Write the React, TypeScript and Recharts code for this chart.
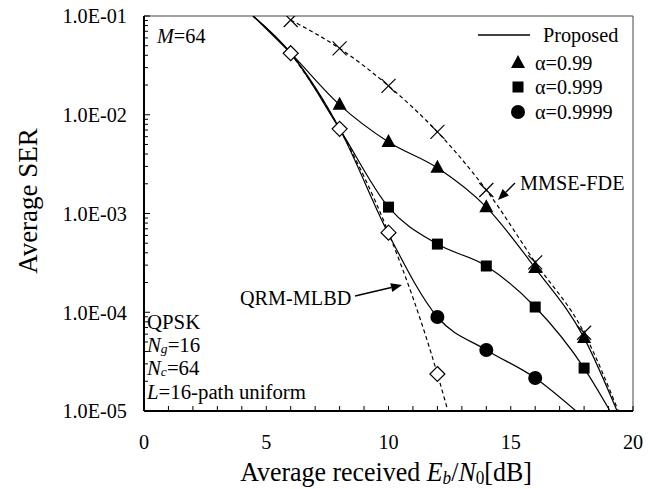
import { ComposedChart, Line, Scatter, XAxis, YAxis, ReferenceLine } from "recharts";

// Eb/N0 (dB) and SER
const snrA99 = [4.46, 6, 8, 10, 12, 14, 16, 18, 19.35];
const serA99 = [0.1, 0.042, 0.0126, 0.0053, 0.0029, 0.00116, 2.8e-4, 5.5e-5, 1e-5];
const snrA999 = [4.46, 6, 8, 10, 12, 14, 16, 18, 19.06];
const serA999 = [0.1, 0.042, 0.0072, 0.00116, 4.9e-4, 2.94e-4, 1.13e-4, 2.72e-5, 1e-5];
const snrA9999 = [4.46, 6, 8, 10, 12, 14, 16, 17.67];
const serA9999 = [0.1, 0.042, 0.0072, 6.2e-4, 8.95e-5, 4.15e-5, 2.16e-5, 1e-5];
const snrQrm = [6, 8, 10, 12, 12.43];
const serQrm = [0.042, 0.0072, 6.4e-4, 2.37e-5, 1e-5];
const snrMmse = [6, 8, 10, 12, 14, 16, 18, 19.4];
const serMmse = [0.091, 0.047, 0.0196, 0.0067, 0.00173, 3.2e-4, 6.2e-5, 1e-5];

// simulated points (markers)
const triX = [8, 10, 12, 14, 16, 18];
const triY = [0.0126, 0.0053, 0.0029, 0.00116, 2.8e-4, 5.5e-5];
const sqX = [10, 12, 14, 16, 18];
const sqY = [0.00116, 4.9e-4, 2.94e-4, 1.13e-4, 2.72e-5];
const cirX = [12, 14, 16];
const cirY = [8.95e-5, 4.15e-5, 2.16e-5];
const diaX = [6, 8, 10, 12];
const diaY = [0.042, 0.0072, 6.4e-4, 2.37e-5];
const crossX = [6, 8, 10, 12, 14, 16, 18];
const crossY = [0.091, 0.047, 0.0196, 0.0067, 0.00173, 3.2e-4, 6.2e-5];

const xTicks = [0, 1, 2, 3, 4, 5, 6, 7, 8, 9, 10, 11, 12, 13, 14, 15, 16, 17, 18, 19, 20];
const xTickLabels = ["0", "5", "10", "15", "20"];
const yDecades = [1e-5, 1e-4, 1e-3, 1e-2, 1e-1];
const yTickLabels = ["1.0E-05", "1.0E-04", "1.0E-03", "1.0E-02", "1.0E-01"];

const zip = (xs: number[], ys: number[]) => xs.map((x, i) => ({ x, y: ys[i] }));

const yTicks: number[] = [];
yDecades.forEach((d, i) => {
  if (i === yDecades.length - 1) yTicks.push(d);
  else for (let m = 1; m < 10; m++) yTicks.push(m * d);
});

const FONT = "'Liberation Serif', 'Times New Roman', serif";
const SX = 0.92;

const YTick = ({ x, y, payload }: any) => {
  const v = payload.value;
  const idx = yDecades.findIndex((d) => Math.abs(d - v) / d < 1e-6);
  return (
    <g>
      <line x1={x} x2={x + (idx >= 0 ? 6 : 4)} y1={y} y2={y} stroke="#000" strokeWidth={1} />
      {idx >= 0 && (
        <text transform={`translate(${x - 17},${y}) scale(${SX},1)`} textAnchor="end"
          dominantBaseline="central" fontSize={22} fontFamily={FONT} fill="#000">
          {yTickLabels[idx]}
        </text>
      )}
    </g>
  );
};

const XTick = ({ x, y, payload }: any) => {
  const v = payload.value;
  const lab = v % 5 === 0 ? xTickLabels[v / 5] : null;
  return (
    <g>
      <line x1={x} x2={x} y1={y} y2={y - 5} stroke="#000" strokeWidth={1} />
      {lab && (
        <text transform={`translate(${x},${y + 31}) scale(${SX},1)`} textAnchor="middle"
          dominantBaseline="central" fontSize={22} fontFamily={FONT} fill="#000">
          {lab}
        </text>
      )}
    </g>
  );
};

const Tri = ({ cx, cy }: any) => (
  <polygon points={`${cx},${cy - 8} ${cx - 7},${cy + 5} ${cx + 7},${cy + 5}`} fill="#000" />
);
const Sq = ({ cx, cy }: any) => <rect x={cx - 5.5} y={cy - 5.5} width={11} height={11} fill="#000" />;
const Cir = ({ cx, cy }: any) => <circle cx={cx} cy={cy} r={7} fill="#000" />;
const Dia = ({ cx, cy }: any) => (
  <polygon points={`${cx},${cy - 7.5} ${cx + 7.5},${cy} ${cx},${cy + 7.5} ${cx - 7.5},${cy}`}
    fill="#fff" stroke="#000" strokeWidth={1.2} />
);
const Cross = ({ cx, cy }: any) => (
  <g stroke="#000" strokeWidth={1.2}>
    <line x1={cx - 7} y1={cy - 7} x2={cx + 7} y2={cy + 7} />
    <line x1={cx - 7} y1={cy + 7} x2={cx + 7} y2={cy - 7} />
  </g>
);

const T = ({ x, y, size = 22, sx = SX, anchor = "start", children }: any) => (
  <text transform={`translate(${x},${y}) scale(${sx},1)`} textAnchor={anchor}
    dominantBaseline="central" fontSize={size} fontFamily={FONT} fill="#000">
    {children}
  </text>
);

const Arrow = ({ x1, y1, x2, y2 }: any) => {
  const a = Math.atan2(y2 - y1, x2 - x1);
  const L = 11, w = 4.5;
  const bx = x2 - L * Math.cos(a), by = y2 - L * Math.sin(a);
  const px = -Math.sin(a) * w, py = Math.cos(a) * w;
  return (
    <g>
      <line x1={x1} y1={y1} x2={bx} y2={by} stroke="#000" strokeWidth={1.3} />
      <polygon points={`${x2},${y2} ${bx + px},${by + py} ${bx - px},${by - py}`} fill="#000" />
    </g>
  );
};

export default function App() {
  const lineProps = { type: "monotone" as const, dataKey: "y", stroke: "#000", strokeWidth: 1.2, dot: false, isAnimationActive: false };
  return (
    <div style={{ position: "absolute", left: 0, top: 0, width: 660, height: 489, background: "#fff" }}>
      <ComposedChart width={660} height={489} margin={{ top: 16, right: 27, bottom: 38, left: 0 }}>
        <XAxis type="number" dataKey="x" domain={[0, 20]} ticks={xTicks} interval={0} height={40}
          allowDataOverflow tickSize={0} tickMargin={0} tickLine={false} tick={<XTick />}
          axisLine={{ stroke: "#000", strokeWidth: 2 }} />
        <YAxis type="number" dataKey="y" scale="log" domain={[1e-5, 0.1]} ticks={yTicks} interval={0}
          width={144} allowDataOverflow tickSize={0} tickMargin={0} tickLine={false} tick={<YTick />}
          axisLine={{ stroke: "#000", strokeWidth: 2 }} />
        <ReferenceLine y={0.1} stroke="#444" strokeWidth={1} />
        <ReferenceLine x={20} stroke="#444" strokeWidth={1} />
        <Line {...lineProps} data={zip(snrA99, serA99)} />
        <Line {...lineProps} data={zip(snrA999, serA999)} />
        <Line {...lineProps} data={zip(snrA9999, serA9999)} />
        <Line {...lineProps} data={zip(snrQrm, serQrm)} strokeDasharray="4 3" />
        <Line {...lineProps} data={zip(snrMmse, serMmse)} strokeDasharray="4 3" />
        <Scatter data={zip(crossX, crossY)} shape={<Cross />} isAnimationActive={false} />
        <Scatter data={zip(diaX, diaY)} shape={<Dia />} isAnimationActive={false} />
        <Scatter data={zip(triX, triY)} shape={<Tri />} isAnimationActive={false} />
        <Scatter data={zip(sqX, sqY)} shape={<Sq />} isAnimationActive={false} />
        <Scatter data={zip(cirX, cirY)} shape={<Cir />} isAnimationActive={false} />
      </ComposedChart>
      <svg width={660} height={489} style={{ position: "absolute", left: 0, top: 0, pointerEvents: "none" }}>
        {/* axis titles */}
        <text transform="translate(28,201) rotate(-90)" textAnchor="middle" dominantBaseline="central"
          fontSize={27} fontFamily={FONT} fill="#000">Average SER</text>
        <text transform={`translate(386,472) scale(0.96,1)`} textAnchor="middle" dominantBaseline="central"
          fontSize={27} fontFamily={FONT} fill="#000">
          Average received <tspan fontStyle="italic">E</tspan>
          <tspan fontSize={18} fontStyle="italic" dy={6}>b</tspan>
          <tspan dy={-6}>/</tspan><tspan fontStyle="italic">N</tspan>
          <tspan fontSize={18} dy={6}>0</tspan><tspan dy={-6}>[dB]</tspan>
        </text>

        {/* legend */}
        <line x1={478} x2={530} y1={35} y2={35} stroke="#000" strokeWidth={1.5} />
        <T x={543} y={35}>Proposed</T>
        <Tri cx={518} cy={63} />
        <T x={535} y={63}>α=0.99</T>
        <Sq cx={518} cy={87} />
        <T x={535} y={87}>α=0.999</T>
        <Cir cx={518} cy={112} />
        <T x={535} y={112}>α=0.9999</T>

        {/* annotations */}
        <T x={157} y={36}><tspan fontStyle="italic">M</tspan>=64</T>
        <T x={520} y={183}>MMSE-FDE</T>
        <Arrow x1={515} y1={183} x2={498} y2={200} />
        <T x={240} y={298}>QRM-MLBD</T>
        <Arrow x1={355} y1={296} x2={402} y2={285} />
        <T x={147} y={322} size={20} sx={1.04}>QPSK</T>
        <T x={147} y={345} size={20} sx={1.04}><tspan fontStyle="italic">N</tspan><tspan fontSize={13} fontStyle="italic" dy={3}>g</tspan><tspan dy={-3}>=16</tspan></T>
        <T x={147} y={368} size={20} sx={1.04}><tspan fontStyle="italic">N</tspan><tspan fontSize={13} fontStyle="italic" dy={3}>c</tspan><tspan dy={-3}>=64</tspan></T>
        <T x={147} y={392} size={20} sx={1.04}><tspan fontStyle="italic">L</tspan>=16-path uniform</T>
      </svg>
    </div>
  );
}
